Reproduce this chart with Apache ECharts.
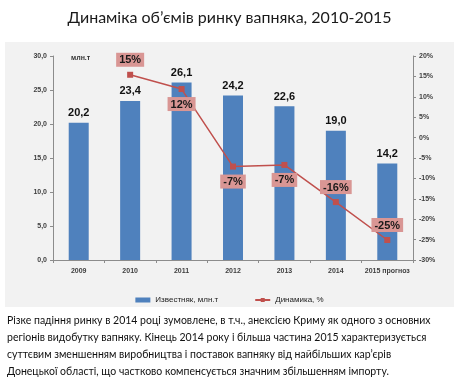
<!DOCTYPE html>
<html>
<head>
<meta charset="utf-8">
<script src="https://cdn.jsdelivr.net/npm/echarts@6/dist/echarts.min.js"></script>
<style>
  html, body { margin: 0; padding: 0; background: #fff; }
  #chart { width: 459px; height: 377px; }
</style>
</head>
<body>
<div id="chart"></div>
<script>
const years    = ['2009', '2010', '2011', '2012', '2013', '2014', '2015 прогноз'];
const volume   = [20.2, 23.4, 26.1, 24.2, 22.6, 19.0, 14.2];
const dynamics = [null, 15.4, 11.9, -7.1, -6.7, -15.8, -25.1];

const noteLines = [
    'Різке падіння ринку в 2014 році зумовлене, в т.ч., анексією Криму як одного з основних',
    'регіонів видобутку вапняку. Кінець 2014 року і більша частина 2015 характеризується',
    'суттєвим зменшенням виробництва і поставок вапняку від найбільших кар’єрів',
    'Донецької області, що частково компенсується значним збільшенням імпорту.'
];

// where each percentage box sits relative to its point
const labelSide = [null, 'top', 'bottom', 'bottom', 'bottom', 'top', 'top'];

const comma = (v) => v.toFixed(1).replace('.', ',');
const axisText = { fontFamily: 'Liberation Sans', fontSize: 7, fontWeight: 'bold', color: '#404040' };

const chart = echarts.init(document.getElementById('chart'), null, { renderer: 'canvas' });

chart.setOption({
    animation: false,
    textStyle: { fontFamily: 'Liberation Sans' },
    title: {
        text: 'Динаміка об’ємів ринку вапняка, 2010-2015',
        left: 'center',
        top: 5,
        textStyle: { fontFamily: 'Lato', fontSize: 16, fontWeight: 'normal', color: '#1a1a1a' }
    },
    graphic: [
        {
            type: 'rect', z: -10, silent: true,
            shape: { x: 5, y: 42, width: 449, height: 265 },
            style: { fill: '#f2f2f2' }
        },
        {
            type: 'text', left: 7, top: 312,
            style: {
                text: noteLines.join('\n'),
                font: '10.5px Lato',
                lineHeight: 17,
                fill: '#111'
            }
        }
    ],
    legend: {
        top: 291,
        left: 'center',
        itemGap: 36,
        itemWidth: 15,
        itemHeight: 5,
        textStyle: { fontFamily: 'Liberation Sans', fontSize: 8, color: '#222' },
        data: [
            { name: 'Известняк, млн.т', icon: 'rect' },
            { name: 'Динамика, %' }
        ]
    },
    grid: { left: 53, right: 46, top: 56, bottom: 117, containLabel: false },
    xAxis: {
        type: 'category',
        data: years,
        axisLine: { lineStyle: { color: '#8c8c8c' } },
        axisTick: { show: true, length: 3, lineStyle: { color: '#8c8c8c' } },
        axisLabel: Object.assign({ margin: 8, interval: 0 }, axisText)
    },
    yAxis: [
        {
            type: 'value', min: 0, max: 30, interval: 5,
            name: 'млн.т',
            nameLocation: 'end',
            nameGap: -6,
            nameTextStyle: { fontFamily: 'Liberation Sans', fontSize: 7, fontWeight: 'bold', color: '#333', align: 'left', padding: [0, 0, 0, 18] },
            axisLine: { show: true, lineStyle: { color: '#8c8c8c' } },
            axisTick: { show: true, length: 3, lineStyle: { color: '#8c8c8c' } },
            splitLine: { show: false },
            axisLabel: Object.assign({ margin: 6, formatter: comma }, axisText)
        },
        {
            type: 'value', min: -30, max: 20, interval: 5,
            position: 'right',
            axisLine: { show: true, lineStyle: { color: '#8c8c8c' } },
            axisTick: { show: true, length: 3, lineStyle: { color: '#8c8c8c' } },
            splitLine: { show: false },
            axisLabel: Object.assign({ margin: 6, formatter: (v) => v + '%' }, axisText)
        }
    ],
    series: [
        {
            name: 'Известняк, млн.т',
            type: 'bar',
            data: volume,
            barWidth: 20,
            itemStyle: { color: '#4f81bd' },
            label: {
                show: true,
                position: 'top',
                distance: 4,
                formatter: (p) => comma(p.value),
                fontFamily: 'Liberation Sans',
                fontSize: 11,
                fontWeight: 'bold',
                color: '#111'
            }
        },
        {
            name: 'Динамика, %',
            type: 'line',
            yAxisIndex: 1,
            symbol: 'rect',
            symbolSize: 6,
            lineStyle: { color: '#c0504d', width: 1.5 },
            itemStyle: { color: '#c0504d' },
            data: dynamics.map((v, i) => ({
                value: v,
                label: { position: labelSide[i] || 'top' }
            })),
            label: {
                show: true,
                distance: 5,
                formatter: (p) => Math.round(p.value) + '%',
                backgroundColor: '#d99694',
                padding: [2, 3, 1, 3],
                fontFamily: 'Liberation Sans',
                fontSize: 11,
                fontWeight: 'bold',
                color: '#1a1a1a'
            }
        }
    ]
});
</script>
</body>
</html>
